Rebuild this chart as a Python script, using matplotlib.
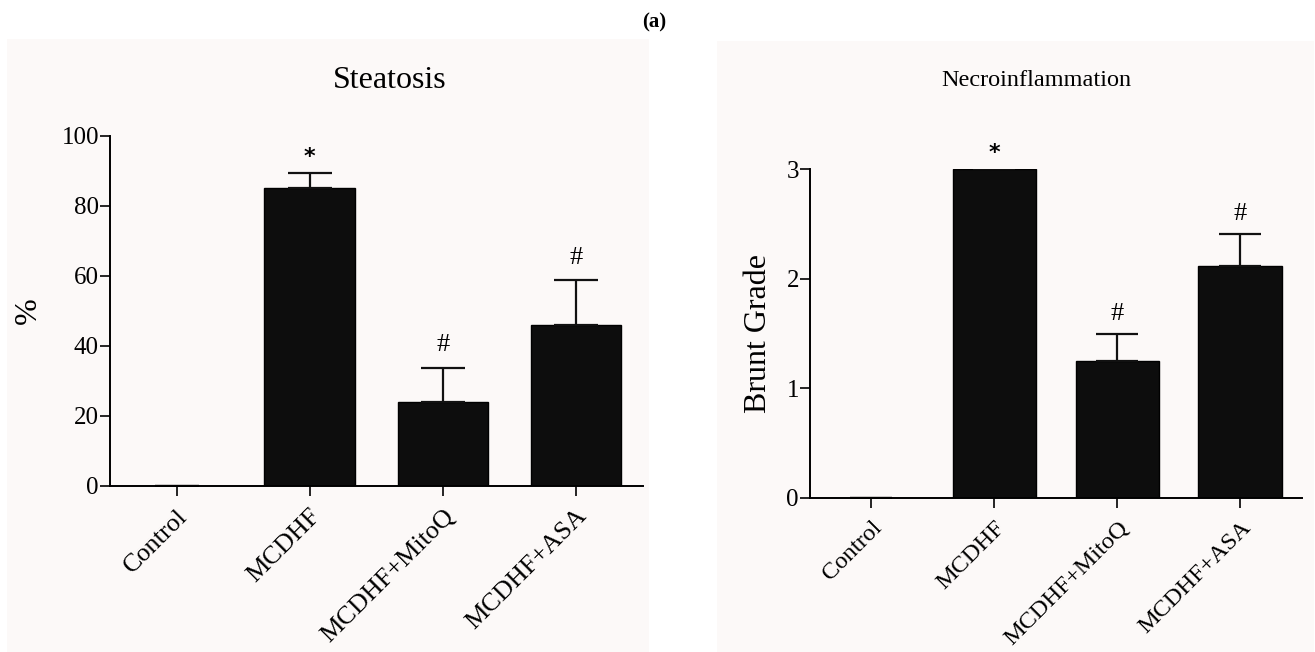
import matplotlib
matplotlib.use('Agg')
import matplotlib.pyplot as plt
from matplotlib.patches import Rectangle

plt.rcParams['font.family'] = ['Liberation Serif', 'DejaVu Serif']

# -------------------------------------------------------------------
# data
groups = ['Control', 'MCDHF', 'MCDHF+MitoQ', 'MCDHF+ASA']

steatosis_mean = [0, 85, 24, 46]
steatosis_err = [0, 4.5, 9.8, 12.7]

necro_mean = [0, 3.0, 1.25, 2.12]
necro_err = [0, 0.0, 0.25, 0.29]

marks = ['', '*', '#', '#']

panel_bg = '#fcf9f8'
bar_color = '#0d0d0d'

# ===================================================================


# -------------------------------------------------------------------
def draw_panel(ax, means, errs, ylabel, yticks, ylim, capsize, xfont, star_off, hash_off):
    x = list(range(len(groups)))
    ax.set_facecolor(panel_bg)
    ax.bar(x, means, width=0.68, color=bar_color, edgecolor='black', linewidth=1.0)
    ax.errorbar(x, means, yerr=[[0] * len(errs), errs], fmt='none', ecolor='#111111',
                elinewidth=1.6, capsize=capsize, capthick=1.6)
    for xi, m, e, mk in zip(x, means, errs, marks):
        if not mk:
            continue
        if mk == '*':
            ax.annotate(mk, (xi, m + e), xytext=(0, star_off), textcoords='offset points',
                        ha='center', va='center', fontsize=16, fontweight='bold',
                        family='DejaVu Sans', annotation_clip=False)
        else:
            ax.annotate(mk, (xi, m + e), xytext=(0, hash_off), textcoords='offset points',
                        ha='center', va='center', fontsize=19, annotation_clip=False)

    ax.set_xlim(-0.5, 3.5)
    ax.set_ylim(*ylim)
    ax.set_yticks(yticks)
    ax.set_xticks(x)
    ax.set_xticklabels(groups, rotation=45, ha='right', rotation_mode='anchor', fontsize=xfont)
    ax.tick_params(axis='y', labelsize=18, length=7, width=1.2, direction='out', pad=1)
    ax.tick_params(axis='x', length=7, width=1.2, direction='out', pad=7)
    for s in ['top', 'right']:
        ax.spines[s].set_visible(False)
    for s in ['left', 'bottom']:
        ax.spines[s].set_linewidth(1.4)
    ax.set_ylabel(ylabel, fontsize=23)


fig = plt.figure(figsize=(13.15, 6.52), dpi=100)

# light panel backgrounds, kept behind the axes
fig.patches.append(Rectangle((7 / 1315, 0), 642 / 1315, 613 / 652, transform=fig.transFigure,
                             facecolor=panel_bg, edgecolor='none', zorder=-10))
fig.patches.append(Rectangle((717 / 1315, 0), 597 / 1315, 611 / 652, transform=fig.transFigure,
                             facecolor=panel_bg, edgecolor='none', zorder=-10))

ax1 = fig.add_axes([110 / 1315, 166.3 / 652, 532.5 / 1315, 349.7 / 652])
draw_panel(ax1, steatosis_mean, steatosis_err, '%',
           [0, 20, 40, 60, 80, 100], (0, 100), 16, 18.8, 11, 16)
ax1.yaxis.set_label_coords(-0.126, 0.5)

ax2 = fig.add_axes([810 / 1315, 154 / 652, 491.7 / 1315, 328.7 / 652])
draw_panel(ax2, necro_mean, necro_err, 'Brunt Grade',
           [0, 1, 2, 3], (0, 3), 15, 17.6, 12, 14)
ax2.yaxis.set_label_coords(-0.075, 0.5)

fig.text(390 / 1315, 1 - 80 / 652, 'Steatosis', ha='center', va='center', fontsize=23)
fig.text(1036 / 1315, 1 - 80 / 652, 'Necroinflammation', ha='center', va='center', fontsize=17.5)
fig.text(654 / 1315, 1 - 22 / 652, '(a)', ha='center', va='center', fontsize=15, fontweight='bold')

fig.savefig('out.png', dpi=100, facecolor='white')
